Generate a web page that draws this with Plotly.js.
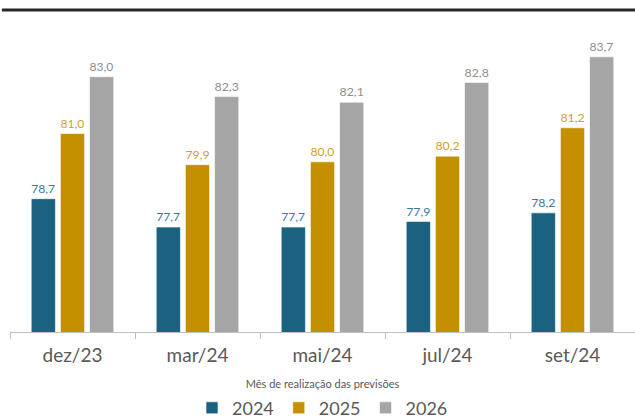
<!DOCTYPE html>
<html>
<head>
<meta charset="utf-8">
<script src="https://cdn.plot.ly/plotly-3.0.1.min.js"></script>
<style>html,body{margin:0;padding:0;background:#fff;}#chart{width:635px;height:419px;}</style>
</head>
<body>
<div id="chart"></div>
<script>
const categories = ["dez/23", "mar/24", "mai/24", "jul/24", "set/24"];
const seriesNames = ["2024", "2025", "2026"];
const values2024 = [78.7, 77.7, 77.7, 77.9, 78.2];
const values2025 = [81.0, 79.9, 80.0, 80.2, 81.2];
const values2026 = [83.0, 82.3, 82.1, 82.8, 83.7];
const barColors = ["#1a6280", "#c49000", "#a5a5a5"];
const labelColors = ["#3b7b98", "#d1a02a", "#8e8e8e"];
const allValues = [values2024, values2025, values2026];

const FONT = "Lato, 'Open Sans', sans-serif";
const traces = allValues.map((vals, i) => ({
  type: "bar",
  name: seriesNames[i],
  x: categories,
  y: vals,
  marker: {color: barColors[i], line: {color: "rgba(255,255,255,0.6)", width: 1}},
  texttemplate: "%{y:.1f}",
  textposition: "outside",
  cliponaxis: false,
  textfont: {family: FONT, size: 13, color: labelColors[i]},
  hoverinfo: "skip"
}));

const layout = {
  width: 635, height: 419,
  margin: {l: 10, r: 0, t: 20, b: 87, autoexpand: false},
  paper_bgcolor: "#ffffff", plot_bgcolor: "#ffffff",
  separators: ",.",
  barmode: "group",
  bargap: 0.30,
  bargroupgap: 0.17,
  font: {family: FONT, color: "#595959"},
  xaxis: {
    type: "category",
    tickson: "boundaries",
    ticks: "outside", ticklen: 6, tickcolor: "#bfbfbf", tickwidth: 1,
    showline: true, linecolor: "#bfbfbf", linewidth: 1,
    showgrid: false,
    ticklabelstandoff: 6,
    tickfont: {family: FONT, size: 19, color: "#595959"},
    title: {text: "Mês de realização das previsões", font: {family: FONT, size: 11, color: "#595959"}, standoff: 18}
  },
  yaxis: {
    range: [74, 85], visible: false, showgrid: false, zeroline: false, fixedrange: true
  },
  legend: {
    orientation: "h", x: 0.5, xanchor: "center",
    yref: "container", y: 0.026, yanchor: "middle",
    font: {family: FONT, size: 18, color: "#595959"},
    itemwidth: 30, tracegroupgap: 0
  },
  shapes: [{
    type: "line", xref: "paper", yref: "paper",
    x0: -0.013, x1: 1, y0: 1.032, y1: 1.032,
    line: {color: "#262626", width: 3}
  }],
  showlegend: true
};

Plotly.newPlot("chart", traces, layout, {displayModeBar: false, staticPlot: true});
</script>
</body>
</html>
